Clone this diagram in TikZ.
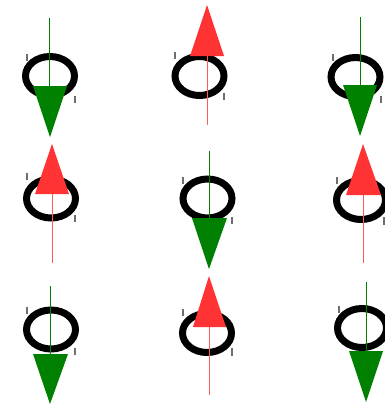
\documentclass[tikz,border=0pt]{standalone}
\definecolor{arrgreen}{RGB}{0,128,0}
\definecolor{arrred}{RGB}{255,51,51}
\definecolor{tickgray}{RGB}{110,110,110}
\tikzset{
  ring/.style={draw=black,line width=7pt},
  stemgreen/.style={draw=arrgreen,line width=0.9pt},
  stemred/.style={draw=arrred!80!white,line width=0.9pt},
  headgreen/.style={fill=arrgreen},
  headred/.style={fill=arrred},
  tickmark/.style={draw=tickgray,line width=1.1pt}
}
% ring + ticks: cx, cy, left tick x, left y1, left y2, right x, right y1, right y2
\newcommand\ringwithticks[8]{%
  \draw[ring] (#1,#2) ellipse [x radius=24.5, y radius=19.5];
  \draw[tickmark] (#3,#4) -- (#3,#5);
  \draw[tickmark] (#6,#7) -- (#6,#8);
}
% down green: stem x, stem top, base y, base x1, base x2, apex x, apex y
\newcommand\downgreen[7]{%
  \draw[stemgreen] (#1,#2) -- (#1,#3);
  \fill[headgreen] (#4,#3) -- (#5,#3) -- (#6,#7) -- cycle;
}
% up red: stem x, stem bottom, base y, base x1, base x2, apex x, apex y
\newcommand\upred[7]{%
  \draw[stemred] (#1,#2) -- (#1,#3);
  \fill[headred] (#4,#3) -- (#5,#3) -- (#6,#7) -- cycle;
}
\begin{document}
\begin{tikzpicture}[x=1pt,y=-1pt]
\useasboundingbox[fill=white] (0,0) rectangle (385,405);
% row 1
\ringwithticks{50}{76}{27}{54}{61}{75}{96}{103}
\downgreen{49}{18}{86}{33}{67}{50}{137}
\ringwithticks{199.5}{76}{175}{52}{59}{224}{93}{100}
\upred{207}{125}{56}{190}{224}{207}{5}
\ringwithticks{355.5}{77}{333}{54}{61}{381}{96}{103}
\downgreen{360}{17}{85}{343}{377}{360}{136}
% row 2
\ringwithticks{51}{198.5}{27}{173}{180}{75}{215}{222}
\upred{52}{263}{194}{35}{69}{52}{144}
\ringwithticks{207.5}{198.5}{183}{177}{184}{232}{217}{224}
\downgreen{209}{151}{218}{192}{227}{209}{269}
\ringwithticks{361}{200}{337}{177}{184}{384}{217}{225}
\upred{363}{263}{195}{346}{381}{363}{144}
% row 3
\ringwithticks{51}{329.5}{27}{307}{314}{75}{348}{355}
\downgreen{50}{286}{354}{33}{68}{50}{404}
\ringwithticks{207}{333}{183}{309}{316}{232}{348}{356}
\upred{209}{395}{327}{193}{226}{209}{276}
\ringwithticks{362}{328}{339}{306}{313}{387}{346}{353}
\downgreen{366}{282}{351}{349}{383}{366}{402}
\end{tikzpicture}
\end{document}
